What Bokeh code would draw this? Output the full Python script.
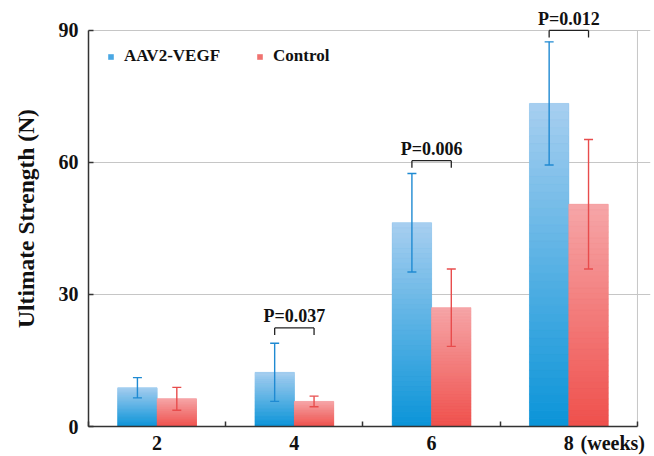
import numpy as np
from bokeh.plotting import figure
from bokeh.models import (Range1d, FixedTicker, ColumnDataSource, Whisker, TeeHead,
                          Legend, LegendItem, LabelSet, Arrow)
from bokeh.embed import file_html
from bokeh.resources import INLINE

# ---- data ----
weeks = ["2", "4", "6", "8"]
aav_mean = [8.8, 12.3, 46.3, 73.4]
aav_sd = [2.3, 6.6, 11.2, 14.0]
ctrl_mean = [6.3, 5.7, 27.0, 50.5]
ctrl_sd = [2.6, 1.2, 8.8, 14.7]
p_weeks = ["4", "6", "8"]
p_text = ["P=0.037", "P=0.006", "P=0.012"]
p_height = [22.4, 60.4, 90.0]
y_ticks = [0, 30, 60, 90]
unit_label = "(weeks)"
unit_label_pos = 3.82

FONT = "Liberation Serif"
BAR_W = 0.287
OFF = 0.1435
TXT = "#111111"
AX = "#333333"

centers = np.arange(len(weeks)) + 0.5
x_max = len(weeks)
y_max = y_ticks[-1]

p = figure(width=654, height=456, x_range=Range1d(0, 4.095), y_range=Range1d(0, 94.52),
           output_backend="svg", toolbar_location=None,
           min_border_left=88, min_border_right=4, min_border_top=10, min_border_bottom=28)
p.outline_line_color = None
p.background_fill_color = "white"
p.border_fill_color = "white"


def hex_mix(c0, c1, t):
    r = [int(round(a + (b - a) * t)) for a, b in zip(c0, c1)]
    return "#%02x%02x%02x" % tuple(r)


def draw_series(means, sds, xoff, bottom_rgb, top_rgb, mid_color, err_color):
    xs = centers + xoff
    main = p.vbar(x=xs, top=means, width=BAR_W, bottom=0, fill_color=mid_color, line_color=None)
    n = 40
    l, r, b, t, c = [], [], [], [], []
    for x, m in zip(xs, means):
        for k in range(n):
            l.append(x - BAR_W / 2)
            r.append(x + BAR_W / 2)
            b.append(m * k / n)
            t.append(m * (k + 1) / n)
            c.append(hex_mix(bottom_rgb, top_rgb, (k + 0.5) / n))
    p.quad(left=l, right=r, bottom=b, top=t, fill_color=c, line_color=c, line_width=0.6)
    src = ColumnDataSource(dict(x=xs, upper=np.array(means) + np.array(sds),
                                lower=np.array(means) - np.array(sds)))
    wk = Whisker(base="x", upper="upper", lower="lower", source=src,
                 line_color=err_color, line_width=1.4, level="overlay",
                 upper_head=TeeHead(size=9, line_color=err_color, line_width=1.4),
                 lower_head=TeeHead(size=9, line_color=err_color, line_width=1.4))
    p.add_layout(wk)
    return main


# grid and right border (box around the data area)
p.xgrid.visible = False
p.ygrid.ticker = FixedTicker(ticks=y_ticks)
p.ygrid.grid_line_color = "#c6c6c6"
p.ygrid.bounds = (0, x_max)
p.segment(x0=[x_max], y0=[0], x1=[x_max], y1=[y_max], line_color="#c6c6c6", line_width=1)

r_aav = draw_series(aav_mean, aav_sd, -OFF, (10, 148, 216), (168, 207, 240), "#4aa8e4", "#1f8ad2")
r_ctl = draw_series(ctrl_mean, ctrl_sd, OFF, (239, 80, 76), (246, 166, 168), "#f07370", "#e84c4c")

# significance brackets
idx = [weeks.index(w) for w in p_weeks]
x1 = [centers[i] - OFF for i in idx]
x2 = [centers[i] + OFF for i in idx]
leg = 1.6
bsrc = ColumnDataSource(dict(x1=x1, x2=x2, h=p_height, hl=[h - leg for h in p_height],
                             ty=[h + 1.3 for h in p_height],
                             tx=[(a + b) / 2 for a, b in zip(x1, x2)], text=p_text))
for xs_, ys_, xe_, ye_ in [("x1", "h", "x2", "h"), ("x1", "hl", "x1", "h"), ("x2", "hl", "x2", "h")]:
    p.add_layout(Arrow(end=None, x_start=xs_, y_start=ys_, x_end=xe_, y_end=ye_, source=bsrc,
                       line_color="#222222", line_width=1.3))
p.add_layout(LabelSet(x="tx", y="ty", text="text", source=bsrc, text_align="center",
                      text_baseline="alphabetic", text_font=FONT, text_font_style="bold",
                      text_font_size="18px", text_color=TXT))

# axes
p.yaxis.ticker = FixedTicker(ticks=y_ticks)
p.yaxis.bounds = (0, y_max)
p.yaxis.axis_label = "Ultimate Strength (N)"
p.yaxis.axis_label_text_font = FONT
p.yaxis.axis_label_text_font_style = "bold"
p.yaxis.axis_label_text_font_size = "23.5px"
p.yaxis.axis_label_text_color = TXT
p.yaxis.axis_label_standoff = 17
p.yaxis.major_label_text_font = FONT
p.yaxis.major_label_text_font_style = "bold"
p.yaxis.major_label_text_font_size = "20px"
p.yaxis.major_label_text_color = TXT
p.yaxis.major_label_standoff = 10
p.yaxis.major_tick_in = 5
p.yaxis.major_tick_out = 0
p.yaxis.minor_tick_line_color = None
p.yaxis.axis_line_color = AX
p.yaxis.axis_line_width = 1.5
p.yaxis.major_tick_line_color = AX
p.yaxis.major_tick_line_width = 1.5

p.xaxis.ticker = FixedTicker(ticks=list(centers) + [unit_label_pos],
                             minor_ticks=list(range(x_max + 1)))
overrides = {float(c): w for c, w in zip(centers, weeks)}
overrides[unit_label_pos] = unit_label
p.xaxis.major_label_overrides = overrides
p.xaxis.bounds = (0, x_max)
p.xaxis.major_tick_line_color = None
p.xaxis.major_tick_in = 0
p.xaxis.major_tick_out = 0
p.xaxis.minor_tick_in = 5
p.xaxis.minor_tick_out = 0
p.xaxis.minor_tick_line_color = AX
p.xaxis.minor_tick_line_width = 1.5
p.xaxis.axis_line_color = AX
p.xaxis.axis_line_width = 1.5
p.xaxis.major_label_text_font = FONT
p.xaxis.major_label_text_font_style = "bold"
p.xaxis.major_label_text_font_size = "20px"
p.xaxis.major_label_text_color = TXT
p.xaxis.major_label_standoff = 5

legend = Legend(items=[LegendItem(label="AAV2-VEGF", renderers=[r_aav]),
                       LegendItem(label="Control", renderers=[r_ctl])],
                orientation="horizontal", location=(19, 360),
                glyph_width=7, glyph_height=7, label_standoff=10, spacing=36,
                padding=0, margin=0, border_line_color=None, background_fill_alpha=0,
                label_text_font=FONT, label_text_font_style="bold",
                label_text_font_size="17px", label_text_color=TXT, label_height=16)
p.add_layout(legend)

open("out.html", "w").write(file_html(p, INLINE))
